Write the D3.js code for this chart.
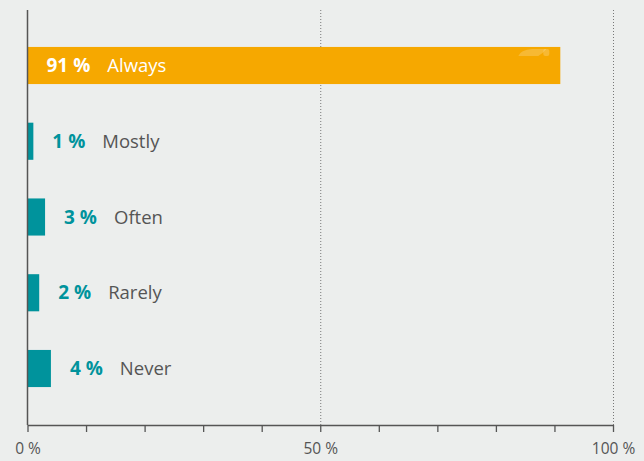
<!DOCTYPE html>
<html>
<head>
<meta charset="utf-8">
<script src="https://cdn.jsdelivr.net/npm/d3@7"></script>
<style>
  html, body { margin: 0; padding: 0; background: #eceeed; }
  svg { display: block; }
</style>
</head>
<body>
<svg id="chart" width="644" height="461"></svg>
<script>
// Survey answers and their share of responses (%)
const categories = ["Always", "Mostly", "Often", "Rarely", "Never"];
const values = [91, 1, 3, 2, 4];
const tickValues = [0, 10, 20, 30, 40, 50, 60, 70, 80, 90, 100];
const tickLabels = { 0: "0 %", 50: "50 %", 100: "100 %" };
const gridValues = [50, 100];

const W = 644, H = 461;
const margin = { top: 10, left: 27.5, right: 31, bottom: 36 };
const svg = d3.select("#chart");

const x = d3.scaleLinear().domain([0, 100]).range([margin.left, W - margin.right]);
const y = d3.scaleBand().domain(categories)
  .range([28, 406]).paddingInner(0.51).paddingOuter(0.25);

const axisY = H - margin.bottom;

// dotted gridlines
svg.append("g").selectAll("line").data(gridValues).join("line")
  .attr("x1", d => x(d) + 0.5).attr("x2", d => x(d) + 0.5)
  .attr("y1", margin.top).attr("y2", axisY)
  .attr("stroke", "#777").attr("stroke-width", 1)
  .attr("stroke-dasharray", "1,2");

// bars
svg.append("g").selectAll("rect").data(categories).join("rect")
  .attr("x", x(0))
  .attr("y", d => y(d))
  .attr("width", (d, i) => x(values[i]) - x(0))
  .attr("height", y.bandwidth())
  .attr("fill", (d, i) => i === 0 ? "#f6a800" : "#00939c");

// soft sheen near the end of the top bar
const firstCat = categories[0];
svg.append("path")
  .attr("d", `M${x(values[0]) - 42},${y(firstCat) + 9} q2,-6 14,-7 h14 q-4,5 -8,7 z`)
  .attr("fill", "#fff").attr("opacity", 0.2);
svg.append("rect")
  .attr("x", x(values[0]) - 17).attr("y", y(firstCat) + 2)
  .attr("width", 6).attr("height", 7).attr("rx", 2)
  .attr("fill", "#fff").attr("opacity", 0.2);

// value and category labels
const labels = svg.append("g").selectAll("g").data(categories).join("g")
  .attr("transform", (d, i) => {
    const lx = i === 0 ? x(0) + 19 : x(values[i]) + 19;
    return `translate(${lx},${y(d) + y.bandwidth() / 2 + 6.5})`;
  });

labels.append("text")
  .attr("class", "pct")
  .attr("font-family", "'Open Sans', sans-serif")
  .attr("font-weight", 700)
  .attr("font-size", 19)
  .attr("fill", (d, i) => i === 0 ? "#ffffff" : "#00939c")
  .text((d, i) => values[i] + " %");

labels.each(function (d, i) {
  const g = d3.select(this);
  const w = g.select("text.pct").node().getComputedTextLength();
  g.append("text")
    .attr("x", w + 17)
    .attr("font-family", "'Open Sans', sans-serif")
    .attr("font-size", 18.5)
    .attr("fill", i === 0 ? "#ffffff" : "#555555")
    .text(d);
});

// left axis line
svg.append("line")
  .attr("x1", x(0)).attr("x2", x(0))
  .attr("y1", margin.top).attr("y2", axisY)
  .attr("stroke", "#555").attr("stroke-width", 1.5);

// bottom axis
const xAxis = d3.axisBottom(x)
  .tickValues(tickValues)
  .tickSize(7)
  .tickSizeOuter(0)
  .tickFormat(d => tickLabels[d] || "");

const gx = svg.append("g")
  .attr("transform", `translate(0,${axisY})`)
  .call(xAxis);
gx.select(".domain").attr("stroke", "#555").attr("stroke-width", 1.5);
gx.selectAll(".tick line").attr("stroke", "#555").attr("stroke-width", 1.3);
gx.selectAll(".tick text")
  .attr("y", 18)
  .attr("font-family", "'Open Sans', sans-serif")
  .attr("font-size", 15.5)
  .attr("fill", "#555");
</script>
</body>
</html>
